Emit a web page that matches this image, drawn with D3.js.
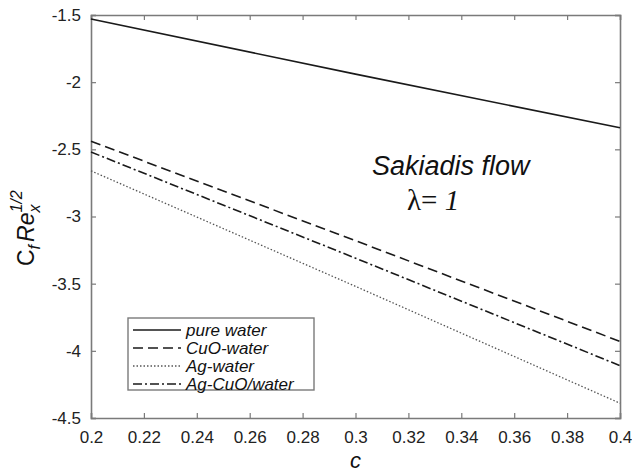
<!DOCTYPE html>
<html>
<head>
<meta charset="utf-8">
<script src="https://cdn.jsdelivr.net/npm/d3@7"></script>
<style>
  body { margin: 0; background: #fff; }
  svg text { font-family: Arial, 'Liberation Sans', sans-serif; }
</style>
</head>
<body>
<div id="wrapper"></div>
<script>
// data
const cValues = [0.2, 0.3, 0.4]
const pureWater = [-1.53, -1.94, -2.34]
const cuoWater = [-2.44, -3.18, -3.93]
const agWater = [-2.66, -3.52, -4.39]
const agCuoWater = [-2.52, -3.31, -4.11]
const seriesNames = ['pure water', 'CuO-water', 'Ag-water', 'Ag-CuO/water']
const xTicks = [0.2, 0.22, 0.24, 0.26, 0.28, 0.3, 0.32, 0.34, 0.36, 0.38, 0.4]
const yTicks = [-1.5, -2, -2.5, -3, -3.5, -4, -4.5]

const dimensions = {
  width: 632,
  height: 476,
  margin: { top: 15, right: 12, bottom: 58, left: 91 },
}
dimensions.boundedWidth = dimensions.width - dimensions.margin.left - dimensions.margin.right
dimensions.boundedHeight = dimensions.height - dimensions.margin.top - dimensions.margin.bottom

const series = [
  { name: seriesNames[0], values: pureWater, dash: null, color: '#1a1a1a', width: 1.6 },
  { name: seriesNames[1], values: cuoWater, dash: '10,5', color: '#1a1a1a', width: 1.6 },
  { name: seriesNames[2], values: agWater, dash: '1.5,2', color: '#555', width: 1.3 },
  { name: seriesNames[3], values: agCuoWater, dash: '9,3,2,3', color: '#1a1a1a', width: 1.6 },
]

const wrapper = d3
  .select('#wrapper')
  .append('svg')
  .attr('width', dimensions.width)
  .attr('height', dimensions.height)

const bounds = wrapper
  .append('g')
  .attr('transform', `translate(${dimensions.margin.left}, ${dimensions.margin.top})`)

const xScale = d3.scaleLinear().domain([0.2, 0.4]).range([0, dimensions.boundedWidth])
const yScale = d3.scaleLinear().domain([-4.5, -1.5]).range([dimensions.boundedHeight, 0])

const axisColor = '#7a7a7a'
// plain hyphen for minus, like matlab does
const tickFmt = (d) => String(+d.toFixed(4))

// axes, ticks drawn inwards like matlab
const xAxis = bounds
  .append('g')
  .attr('transform', `translate(0, ${dimensions.boundedHeight})`)
  .call(d3.axisBottom(xScale).tickValues(xTicks).tickSize(-5).tickPadding(13).tickFormat(tickFmt))
const xAxisTop = bounds
  .append('g')
  .call(d3.axisTop(xScale).tickValues(xTicks).tickSize(-5).tickFormat(''))
const yAxis = bounds
  .append('g')
  .call(d3.axisLeft(yScale).tickValues(yTicks).tickSize(-5).tickPadding(10).tickFormat(tickFmt))
const yAxisRight = bounds
  .append('g')
  .attr('transform', `translate(${dimensions.boundedWidth}, 0)`)
  .call(d3.axisRight(yScale).tickValues(yTicks).tickSize(-5).tickFormat(''))

;[xAxis, xAxisTop, yAxis, yAxisRight].forEach((ax) => {
  ax.select('.domain').attr('stroke', axisColor).attr('stroke-width', 1.6)
  ax.selectAll('.tick line').attr('stroke', axisColor).attr('stroke-width', 1.2)
  ax.selectAll('.tick text')
    .attr('fill', '#222')
    .style('font-size', '17px')
})

// lines
const lineGenerator = (values) =>
  d3.line()
    .x((d, i) => xScale(cValues[i]))
    .y((d) => yScale(d))(values)

bounds
  .append('g')
  .selectAll('path')
  .data(series)
  .enter()
  .append('path')
  .attr('fill', 'none')
  .attr('stroke', (d) => d.color)
  .attr('stroke-width', (d) => d.width)
  .attr('stroke-dasharray', (d) => d.dash)
  .attr('d', (d) => lineGenerator(d.values))

// legend
const legend = wrapper.append('g').attr('transform', 'translate(128, 318)')
legend
  .append('rect')
  .attr('width', 186)
  .attr('height', 72)
  .attr('fill', '#fff')
  .attr('stroke', axisColor)
  .attr('stroke-width', 1.4)

const legendItems = legend
  .selectAll('.legend-item')
  .data(series)
  .enter()
  .append('g')
  .attr('class', 'legend-item')
  .attr('transform', (d, i) => `translate(0, ${12 + i * 18})`)

legendItems
  .append('line')
  .attr('x1', 5)
  .attr('x2', 53)
  .attr('stroke', (d) => d.color)
  .attr('stroke-width', (d) => d.width)
  .attr('stroke-dasharray', (d) => d.dash)

legendItems
  .append('text')
  .attr('x', 58)
  .attr('y', 6)
  .style('font-size', '17px')
  .style('font-style', 'italic')
  .attr('fill', '#111')
  .text((d) => d.name)

// annotation
wrapper
  .append('text')
  .attr('x', 372)
  .attr('y', 175)
  .style('font-size', '27px')
  .style('font-style', 'italic')
  .attr('fill', '#111')
  .text('Sakiadis flow')

const lambdaText = wrapper
  .append('text')
  .attr('x', 407)
  .attr('y', 210)
  .style('font-family', "'Liberation Serif', 'DejaVu Serif', serif")
  .style('font-size', '29px')
  .attr('fill', '#111')
lambdaText.append('tspan').text('λ= ')
lambdaText.append('tspan').style('font-style', 'italic').text('1')

// axis labels
wrapper
  .append('text')
  .attr('x', 91 + dimensions.boundedWidth / 2)
  .attr('y', 468)
  .attr('text-anchor', 'middle')
  .style('font-size', '22px')
  .style('font-style', 'italic')
  .attr('fill', '#111')
  .text('c')

const yLabel = wrapper
  .append('text')
  .attr('transform', 'translate(34, 266) rotate(-90)')
  .style('font-size', '23px')
  .attr('fill', '#111')
yLabel.append('tspan').text('C')
yLabel.append('tspan').attr('dy', 6).style('font-size', '16px').style('font-style', 'italic').text('f')
yLabel.append('tspan').attr('dy', -6).attr('dx', 3).style('font-style', 'italic').text('Re')
yLabel.append('tspan').attr('dy', 6).style('font-size', '16px').style('font-style', 'italic').text('x')
yLabel.append('tspan').attr('dy', -18).attr('dx', -8).style('font-size', '16px').style('font-style', 'italic').text('1/2')
</script>
</body>
</html>
